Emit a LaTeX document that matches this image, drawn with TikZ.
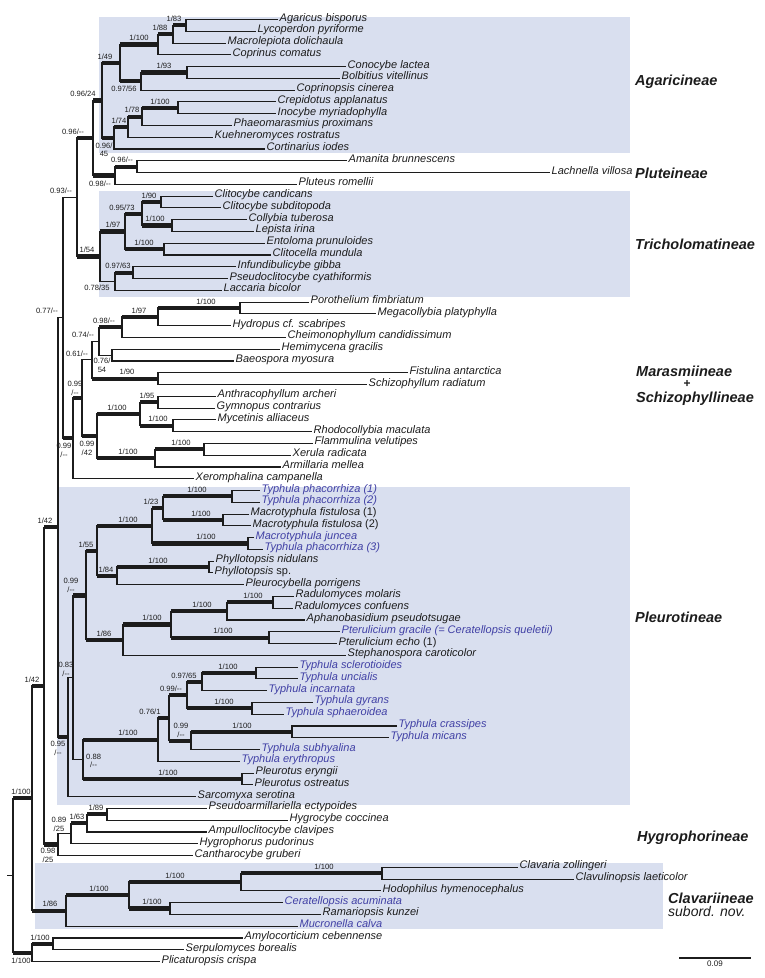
\documentclass[tikz,border=0pt]{standalone}
\usepackage{fontspec}
\setmainfont{Liberation Sans}
\usetikzlibrary{calc, positioning}
\definecolor{cladebg}{RGB}{217,223,239}
\definecolor{newblue}{RGB}{64,64,165}
\definecolor{ink}{RGB}{28,28,28}

\begin{document}
\begin{tikzpicture}[
        x=1pt, y=-1pt,
        taxon/.style={anchor=west, inner xsep=1.5pt, inner ysep=0pt,
                      text height=4.5pt, text depth=1.5pt, text=ink,
                      font=\fontsize{11}{12}\selectfont\itshape},
        newtaxon/.style={taxon, text=newblue},
        sup/.style={inner sep=0pt, align=center, text=ink,
                    font=\fontsize{7.6}{8.8}\selectfont},
        br/.style={draw=ink, line width=1.1pt, line join=miter},
        thk/.style={draw=ink, line width=4.2pt},
        clade/.style={anchor=west, inner sep=0pt, text=ink,
                      font=\fontsize{14.5}{16}\selectfont\bfseries\itshape},
        cladebox/.style={fill=cladebg},
    ]
    \useasboundingbox (0,0) rectangle (765,978);

    % suborder boxes
    \path[cladebox] (99,16.5) rectangle (630,152.7);
    \path[cladebox] (98.5,191) rectangle (630,297.3);
    \path[cladebox] (57,486.7) rectangle (630,805);
    \path[cladebox] (35,863.3) rectangle (663,929.3);

    % suborder names
    \node[clade] (cAga) at (635,82) {Agaricineae};
    \node[clade] (cPlu) at (635,173) {Pluteineae};
    \node[clade] (cTri) at (635,244) {Tricholomatineae};
    \node[clade] (cMar) at (636,371) {Marasmiineae};
    \node[clade, anchor=center, font=\fontsize{12}{12}\selectfont\bfseries,
          text height=5pt, text depth=0pt] (cPlus) at (687,385) {+};
    \node[clade] (cSch) at (636,399) {Schizophyllineae};
    \node[clade] (cPle) at (635,617) {Pleurotineae};
    \node[clade] (cHyg) at (637,838) {Hygrophorineae};
    \node[clade] (cCla) at (668,898) {Clavariineae};
    \node[clade, font=\fontsize{14}{16}\selectfont\itshape] (cNov) at (668,911) {subord. nov.};

    % scale bar
    \coordinate (sb0) at (679,958);
    \coordinate (sb1) at (751,958);
    \draw[br, line width=1.3pt] (sb0) -- (sb1);
    \node[sup, font=\fontsize{8}{9}\selectfont, below=3pt] (sbl) at ($(sb0)!.5!(sb1)$) {0.09};

    \begin{scope}[yshift=-19.5pt, y=-11.775pt]
    % taxa: Agaricineae, Pluteineae
    \node[taxon] (ag1) at (278,0) {Agaricus bisporus};
    \node[taxon] (ag2) at (256,1) {Lycoperdon pyriforme};
    \node[taxon] (ag3) at (226,2) {Macrolepiota dolichaula};
    \node[taxon] (ag4) at (231,3) {Coprinus comatus};
    \node[taxon] (ag5) at (346,4) {Conocybe lactea};
    \node[taxon] (ag6) at (340,5) {Bolbitius vitellinus};
    \node[taxon] (ag7) at (295,6) {Coprinopsis cinerea};
    \node[taxon] (ag8) at (276,7) {Crepidotus applanatus};
    \node[taxon] (ag9) at (276,8) {Inocybe myriadophylla};
    \node[taxon] (ag10) at (232,9) {Phaeomarasmius proximans};
    \node[taxon] (ag11) at (213,10) {Kuehneromyces rostratus};
    \node[taxon] (ag12) at (265,11) {Cortinarius iodes};
    \node[taxon] (pl1) at (347,12) {Amanita brunnescens};
    \node[taxon] (pl2) at (550,13) {Lachnella villosa};
    \node[taxon] (pl3) at (297,14) {Pluteus romellii};

    % taxa: Tricholomatineae
    \node[taxon] (tr1) at (213,15) {Clitocybe candicans};
    \node[taxon] (tr2) at (221,16) {Clitocybe subditopoda};
    \node[taxon] (tr3) at (247,17) {Collybia tuberosa};
    \node[taxon] (tr4) at (254,18) {Lepista irina};
    \node[taxon] (tr5) at (265,19) {Entoloma prunuloides};
    \node[taxon] (tr6) at (271,20) {Clitocella mundula};
    \node[taxon] (tr7) at (236,21) {Infundibulicybe gibba};
    \node[taxon] (tr8) at (228,22) {Pseudoclitocybe cyathiformis};
    \node[taxon] (tr9) at (222,23) {Laccaria bicolor};

    % taxa: Marasmiineae + Schizophyllineae
    \node[taxon] (ma1) at (309,24) {Porothelium fimbriatum};
    \node[taxon] (ma2) at (376,25) {Megacollybia platyphylla};
    \node[taxon] (ma3) at (231,26) {Hydropus cf. scabripes};
    \node[taxon] (ma4) at (286,27) {Cheimonophyllum candidissimum};
    \node[taxon] (ma5) at (280,28) {Hemimycena gracilis};
    \node[taxon] (ma6) at (234,29) {Baeospora myosura};
    \node[taxon] (ma7) at (408,30) {Fistulina antarctica};
    \node[taxon] (ma8) at (367,31) {Schizophyllum radiatum};
    \node[taxon] (ma9) at (216,32) {Anthracophyllum archeri};
    \node[taxon] (ma10) at (215,33) {Gymnopus contrarius};
    \node[taxon] (ma11) at (216,34) {Mycetinis alliaceus};
    \node[taxon] (ma12) at (312,35) {Rhodocollybia maculata};
    \node[taxon] (ma13) at (313,36) {Flammulina velutipes};
    \node[taxon] (ma14) at (291,37) {Xerula radicata};
    \node[taxon] (ma15) at (281,38) {Armillaria mellea};
    \node[taxon] (ma16) at (194,39) {Xeromphalina campanella};

    % taxa: Pleurotineae
    \node[newtaxon] (pt1) at (260,40) {Typhula phacorrhiza (1)};
    \node[newtaxon] (pt2) at (260,41) {Typhula phacorrhiza (2)};
    \node[taxon] (pt3) at (249,42) {Macrotyphula fistulosa {\upshape(1)}};
    \node[taxon] (pt4) at (251,43) {Macrotyphula fistulosa {\upshape(2)}};
    \node[newtaxon] (pt5) at (254,44) {Macrotyphula juncea};
    \node[newtaxon] (pt6) at (263,45) {Typhula phacorrhiza (3)};
    \node[taxon] (pt7) at (214,46) {Phyllotopsis nidulans};
    \node[taxon] (pt8) at (213,47) {Phyllotopsis {\upshape sp.}};
    \node[taxon] (pt9) at (244,48) {Pleurocybella porrigens};
    \node[taxon] (pt10) at (294,49) {Radulomyces molaris};
    \node[taxon] (pt11) at (293,50) {Radulomyces confuens};
    \node[taxon] (pt12) at (305,51) {Aphanobasidium pseudotsugae};
    \node[newtaxon] (pt13) at (340,52) {Pterulicium gracile (= Ceratellopsis queletii)};
    \node[taxon] (pt14) at (337,53) {Pterulicium echo {\upshape(1)}};
    \node[taxon] (pt15) at (346,54) {Stephanospora caroticolor};
    \node[newtaxon] (pt16) at (298,55) {Typhula sclerotioides};
    \node[newtaxon] (pt17) at (298,56) {Typhula uncialis};
    \node[newtaxon] (pt18) at (267,57) {Typhula incarnata};
    \node[newtaxon] (pt19) at (313,58) {Typhula gyrans};
    \node[newtaxon] (pt20) at (284,59) {Typhula sphaeroidea};
    \node[newtaxon] (pt21) at (397,60) {Typhula crassipes};
    \node[newtaxon] (pt22) at (389,61) {Typhula micans};
    \node[newtaxon] (pt23) at (260,62) {Typhula subhyalina};
    \node[newtaxon] (pt24) at (240,63) {Typhula erythropus};
    \node[taxon] (pt25) at (254,64) {Pleurotus eryngii};
    \node[taxon] (pt26) at (253,65) {Pleurotus ostreatus};
    \node[taxon] (pt27) at (196,66) {Sarcomyxa serotina};

    % taxa: Hygrophorineae
    \node[taxon] (hy1) at (207,67) {Pseudoarmillariella ectypoides};
    \node[taxon] (hy2) at (288,68) {Hygrocybe coccinea};
    \node[taxon] (hy3) at (207,69) {Ampulloclitocybe clavipes};
    \node[taxon] (hy4) at (198,70) {Hygrophorus pudorinus};
    \node[taxon] (hy5) at (193,71) {Cantharocybe gruberi};

    % taxa: Clavariineae and outgroup
    \node[taxon] (cl1) at (518,72) {Clavaria zollingeri};
    \node[taxon] (cl2) at (574,73) {Clavulinopsis laeticolor};
    \node[taxon] (cl3) at (381,74) {Hodophilus hymenocephalus};
    \node[newtaxon] (cl4) at (283,75) {Ceratellopsis acuminata};
    \node[taxon] (cl5) at (321,76) {Ramariopsis kunzei};
    \node[newtaxon] (cl6) at (298,77) {Mucronella calva};
    \node[taxon] (og1) at (243,78) {Amylocorticium cebennense};
    \node[taxon] (og2) at (184,79) {Serpulomyces borealis};
    \node[taxon] (og3) at (160,80) {Plicaturopsis crispa};

    % branches: Agaricineae, Pluteineae
    \coordinate (nA) at (186,0.5);     \draw[br] (ag1.west) -| (nA) |- (ag2.west);
    \coordinate (nB) at (173,1.25);    \draw[br] (nA) -| (nB) |- (ag3.west);
    \coordinate (nC) at (158,2.125);   \draw[br] (nB) -| (nC) |- (ag4.west);
    \coordinate (nD) at (187,4.5);     \draw[br] (ag5.west) -| (nD) |- (ag6.west);
    \coordinate (nE) at (141,5.25);    \draw[br] (nD) -| (nE) |- (ag7.west);
    \coordinate (nF) at (120,3.6875);  \draw[br] (nC) -| (nF) |- (nE);
    \coordinate (nG) at (178,7.5);     \draw[br] (ag8.west) -| (nG) |- (ag9.west);
    \coordinate (nH) at (142,8.25);    \draw[br] (nG) -| (nH) |- (ag10.west);
    \coordinate (nI) at (128,9.125);   \draw[br] (nH) -| (nI) |- (ag11.west);
    \coordinate (nJ) at (114,10.0625); \draw[br] (nI) -| (nJ) |- (ag12.west);
    \coordinate (nK) at (102,6.875);   \draw[br] (nF) -| (nK) |- (nJ);
    \coordinate (nN) at (137,12.5);    \draw[br] (pl1.west) -| (nN) |- (pl2.west);
    \coordinate (nO) at (115,13.25);   \draw[br] (nN) -| (nO) |- (pl3.west);
    \coordinate (nL) at (93,10.0625);  \draw[br] (nK) -| (nL) |- (nO);

    % branches: Tricholomatineae
    \coordinate (nQ) at (161,15.5);    \draw[br] (tr1.west) -| (nQ) |- (tr2.west);
    \coordinate (nR) at (172,17.5);    \draw[br] (tr3.west) -| (nR) |- (tr4.west);
    \coordinate (nS) at (142,16.5);    \draw[br] (nQ) -| (nS) |- (nR);
    \coordinate (nU) at (164,19.5);    \draw[br] (tr5.west) -| (nU) |- (tr6.west);
    \coordinate (nT) at (125,18);      \draw[br] (nS) -| (nT) |- (nU);
    \coordinate (nV) at (133,21.5);    \draw[br] (tr7.west) -| (nV) |- (tr8.west);
    \coordinate (nW) at (115,22.25);   \draw[br] (nV) -| (nW) |- (tr9.west);
    \coordinate (nP) at (100,20.125);  \draw[br] (nT) -| (nP) |- (nW);
    \coordinate (nM) at (77,15.094);   \draw[br] (nL) -| (nM) |- (nP);

    % branches: Marasmiineae + Schizophyllineae
    \coordinate (nX) at (240,24.5);    \draw[br] (ma1.west) -| (nX) |- (ma2.west);
    \coordinate (nY) at (158,25.25);   \draw[br] (nX) -| (nY) |- (ma3.west);
    \coordinate (nZ) at (122,26.125);  \draw[br] (nY) -| (nZ) |- (ma4.west);
    \coordinate (nAB) at (112,28.5);   \draw[br] (ma5.west) -| (nAB) |- (ma6.west);
    \coordinate (nAA) at (99,27.3125); \draw[br] (nZ) -| (nAA) |- (nAB);
    \coordinate (nAD) at (158,30.5);   \draw[br] (ma7.west) -| (nAD) |- (ma8.west);
    \coordinate (nAC) at (92,28.906);  \draw[br] (nAA) -| (nAC) |- (nAD);
    \coordinate (nAF) at (158,32.5);   \draw[br] (ma9.west) -| (nAF) |- (ma10.west);
    \coordinate (nAG) at (173,34.5);   \draw[br] (ma11.west) -| (nAG) |- (ma12.west);
    \coordinate (nAH) at (140,33.5);   \draw[br] (nAF) -| (nAH) |- (nAG);
    \coordinate (nAJ) at (204,36.5);   \draw[br] (ma13.west) -| (nAJ) |- (ma14.west);
    \coordinate (nAK) at (155,37.25);  \draw[br] (nAJ) -| (nAK) |- (ma15.west);
    \coordinate (nAI) at (97,35.375);  \draw[br] (nAH) -| (nAI) |- (nAK);
    \coordinate (nAE) at (82,32.14);   \draw[br] (nAC) -| (nAE) |- (nAI);
    \coordinate (nAL) at (73,35.57);   \draw[br] (nAE) -| (nAL) |- (ma16.west);
    \coordinate (nAM) at (63,25.33);   \draw[br] (nM) -| (nAM) |- (nAL);

    % branches: Pleurotineae
    \coordinate (nBA) at (232,40.5);   \draw[br] (pt1.west) -| (nBA) |- (pt2.west);
    \coordinate (nBB) at (223,42.5);   \draw[br] (pt3.west) -| (nBB) |- (pt4.west);
    \coordinate (nBC) at (163,41.5);   \draw[br] (nBA) -| (nBC) |- (nBB);
    \coordinate (nBE) at (248,44.5);   \draw[br] (pt5.west) -| (nBE) |- (pt6.west);
    \coordinate (nBD) at (152,43);     \draw[br] (nBC) -| (nBD) |- (nBE);
    \coordinate (nBG) at (209,46.5);   \draw[br] (pt7.west) -| (nBG) |- (pt8.west);
    \coordinate (nBH) at (117,47.25);  \draw[br] (nBG) -| (nBH) |- (pt9.west);
    \coordinate (nBF) at (97,45.125);  \draw[br] (nBD) -| (nBF) |- (nBH);
    \coordinate (nBM) at (273,49.5);   \draw[br] (pt10.west) -| (nBM) |- (pt11.west);
    \coordinate (nBN) at (227,50.25);  \draw[br] (nBM) -| (nBN) |- (pt12.west);
    \coordinate (nBP) at (269,52.5);   \draw[br] (pt13.west) -| (nBP) |- (pt14.west);
    \coordinate (nBO) at (171,51.375); \draw[br] (nBN) -| (nBO) |- (nBP);
    \coordinate (nBL) at (123,52.69);  \draw[br] (nBO) -| (nBL) |- (pt15.west);
    \coordinate (nBI) at (86,48.91);   \draw[br] (nBF) -| (nBI) |- (nBL);
    \coordinate (nBQ) at (256,55.5);   \draw[br] (pt16.west) -| (nBQ) |- (pt17.west);
    \coordinate (nBR) at (202,56.25);  \draw[br] (nBQ) -| (nBR) |- (pt18.west);
    \coordinate (nBT) at (252,58.5);   \draw[br] (pt19.west) -| (nBT) |- (pt20.west);
    \coordinate (nBS) at (187,57.375); \draw[br] (nBR) -| (nBS) |- (nBT);
    \coordinate (nBV) at (292,60.5);   \draw[br] (pt21.west) -| (nBV) |- (pt22.west);
    \coordinate (nBW) at (191,61.25);  \draw[br] (nBV) -| (nBW) |- (pt23.west);
    \coordinate (nBU) at (169,59.31);  \draw[br] (nBS) -| (nBU) |- (nBW);
    \coordinate (nBX) at (158,61.16);  \draw[br] (nBU) -| (nBX) |- (pt24.west);
    \coordinate (nBZ) at (242,64.5);   \draw[br] (pt25.west) -| (nBZ) |- (pt26.west);
    \coordinate (nBY) at (83,62.83);   \draw[br] (nBX) -| (nBY) |- (nBZ);
    \coordinate (nBK) at (73,55.87);   \draw[br] (nBI) -| (nBK) |- (nBY);
    \coordinate (nCA) at (68,60.93);   \draw[br] (nBK) -| (nCA) |- (pt27.west);
    \coordinate (nAN) at (58,43.13);   \draw[br] (nAM) -| (nAN) |- (nCA);

    % branches: Hygrophorineae
    \coordinate (nCE) at (107,67.5);   \draw[br] (hy1.west) -| (nCE) |- (hy2.west);
    \coordinate (nCF) at (87,68.25);   \draw[br] (nCE) -| (nCF) |- (hy3.west);
    \coordinate (nCG) at (71,69.125);  \draw[br] (nCF) -| (nCG) |- (hy4.west);
    \coordinate (nCC) at (58,70.06);   \draw[br] (nCG) -| (nCC) |- (hy5.west);
    \coordinate (nCD) at (44,56.6);    \draw[br] (nAN) -| (nCD) |- (nCC);

    % branches: Clavariineae, outgroup, root
    \coordinate (nCI) at (382,72.5);   \draw[br] (cl1.west) -| (nCI) |- (cl2.west);
    \coordinate (nCJ) at (241,73.25);  \draw[br] (nCI) -| (nCJ) |- (cl3.west);
    \coordinate (nCL) at (170,75.5);   \draw[br] (cl4.west) -| (nCL) |- (cl5.west);
    \coordinate (nCK) at (129,74.375); \draw[br] (nCJ) -| (nCK) |- (nCL);
    \coordinate (nCM) at (66,75.69);   \draw[br] (nCK) -| (nCM) |- (cl6.west);
    \coordinate (nCH) at (32,66.14);   \draw[br] (nCD) -| (nCH) |- (nCM);
    \coordinate (nCO) at (53,78.5);    \draw[br] (og1.west) -| (nCO) |- (og2.west);
    \coordinate (nCP) at (32,79.25);   \draw[br] (nCO) -| (nCP) |- (og3.west);
    \coordinate (nCN) at (13,72.7);    \draw[br] (nCH) -| (nCN) |- (nCP);
    \coordinate (rt) at (7,72.7);      \draw[br] (rt) -- (nCN);

    % well supported branches
    \foreach \c/\p in {nA/nB, nB/nC, nC/nF, nD/nE, nE/nF, nF/nK, nG/nH, nH/nI,
        nI/nJ, nJ/nK, nK/nL, nL/nM, nN/nO, nO/nL, nQ/nS, nR/nS, nS/nT, nU/nT,
        nT/nP, nV/nW, nP/nM, nX/nY, nY/nZ, nZ/nAA, nAD/nAC, nAF/nAH, nAG/nAH,
        nAH/nAI, nAJ/nAK, nAK/nAI, nAI/nAE, nAE/nAL, nAL/nAM, nBA/nBC, nBB/nBC,
        nBC/nBD, nBE/nBD, nBD/nBF, nBG/nBH, nBH/nBF, nBF/nBI, nBM/nBN, nBN/nBO,
        nBP/nBO, nBO/nBL, nBL/nBI, nBI/nBK, nBQ/nBR, nBR/nBS, nBT/nBS, nBS/nBU,
        nBV/nBW, nBW/nBU, nBU/nBX, nBX/nBY, nBZ/nBY, nCA/nAN, nAN/nCD, nCE/nCF,
        nCF/nCG, nCC/nCD, nCD/nCH, nCI/nCJ, nCJ/nCK, nCL/nCK, nCK/nCM, nCM/nCH,
        nCH/nCN, nCO/nCP, nCP/nCN}
        \draw[thk] (\c -| \p) -- (\c);

    % support values
    \node[sup, above=3.5pt] (sA) at (174,0.5) {1/83};
    \node[sup, above=3.5pt] (sB) at (160,1.25) {1/88};
    \node[sup, above=3.5pt] (sC) at (139,2.125) {1/100};
    \node[sup, above=3.5pt] (sD) at (164,4.5) {1/93};
    \node[sup, below=4pt] (sE) at (124,5.25) {0.97/56};
    \node[sup, above=3.5pt] (sF) at (105,3.6875) {1/49};
    \node[sup, above=3.5pt] (sG) at (160,7.5) {1/100};
    \node[sup, above=3.5pt] (sH) at (132,8.25) {1/78};
    \node[sup, above=3.5pt] (sI) at (119,9.125) {1/74};
    \node[sup, below=4.5pt] (sJ) at (104,10.0625) {0.96/\\45};
    \node[sup, above=3.5pt] (sK) at (83,6.875) {0.96/24};
    \node[sup, above=3.5pt] (sL) at (73,10.0625) {0.96/-{}-};
    \node[sup, above=3.5pt] (sN) at (122,12.5) {0.96/-{}-};
    \node[sup, below=5pt] (sO) at (100,13.25) {0.98/-{}-};
    \node[sup, above=3.5pt] (sM) at (61,15.094) {0.93/-{}-};
    \node[sup, above=3.5pt] (sQ) at (149,15.5) {1/90};
    \node[sup, above=3.5pt] (sR) at (155,17.5) {1/100};
    \node[sup, above=3.5pt] (sS) at (122,16.5) {0.95/73};
    \node[sup, above=3.5pt] (sU) at (144,19.5) {1/100};
    \node[sup, above=3.5pt] (sT) at (113,18) {1/97};
    \node[sup, above=3.5pt] (sV) at (118,21.5) {0.97/63};
    \node[sup, below=3pt] (sW) at (97,22.25) {0.78/35};
    \node[sup, above=3.5pt] (sP) at (87,20.125) {1/54};
    \node[sup, above=3.5pt] (sX) at (206,24.5) {1/100};
    \node[sup, above=3.5pt] (sY) at (139,25.25) {1/97};
    \node[sup, above=3.5pt] (sZ) at (104,26.125) {0.98/-{}-};
    \node[sup, below=3pt] (sAB) at (102,28.5) {0.76/\\54};
    \node[sup, above=3.5pt] (sAA) at (83,27.3125) {0.74/-{}-};
    \node[sup, above=3.5pt] (sAD) at (127,30.5) {1/90};
    \node[sup, above=3.5pt] (sAC) at (77,28.906) {0.61/-{}-};
    \node[sup, above=3.5pt] (sAF) at (147,32.5) {1/95};
    \node[sup, above=3.5pt] (sAG) at (158,34.5) {1/100};
    \node[sup, above=3.5pt] (sAH) at (117,33.5) {1/100};
    \node[sup, above=3.5pt] (sAJ) at (181,36.5) {1/100};
    \node[sup, above=3.5pt] (sAK) at (128,37.25) {1/100};
    \node[sup, below=5pt] (sAI) at (87,35.375) {0.99\\/42};
    \node[sup, above=2pt] (sAE) at (75,32.14) {0.99\\/-{}-};
    \node[sup, below=4.5pt] (sAL) at (64,35.57) {0.99\\/-{}-};
    \node[sup, above=3.5pt] (sAM) at (47,25.33) {0.77/-{}-};
    \node[sup, above=3.5pt] (sBA) at (197,40.5) {1/100};
    \node[sup, above=3.5pt] (sBB) at (201,42.5) {1/100};
    \node[sup, above=3.5pt] (sBC) at (151,41.5) {1/23};
    \node[sup, above=3.5pt] (sBE) at (206,44.5) {1/100};
    \node[sup, above=3.5pt] (sBD) at (128,43) {1/100};
    \node[sup, above=3.5pt] (sBG) at (158,46.5) {1/100};
    \node[sup, above=3.5pt] (sBH) at (106,47.25) {1/84};
    \node[sup, above=3.5pt] (sBF) at (86,45.125) {1/55};
    \node[sup, above=3.5pt] (sBM) at (253,49.5) {1/100};
    \node[sup, above=3.5pt] (sBN) at (202,50.25) {1/100};
    \node[sup, above=3.5pt] (sBP) at (223,52.5) {1/100};
    \node[sup, above=3.5pt] (sBO) at (152,51.375) {1/100};
    \node[sup, above=3.5pt] (sBL) at (104,52.69) {1/86};
    \node[sup, above=3pt] (sBI) at (71,48.91) {0.99\\/-{}-};
    \node[sup, above=3.5pt] (sBQ) at (228,55.5) {1/100};
    \node[sup, above=3.5pt] (sBR) at (184,56.25) {0.97/65};
    \node[sup, above=3.5pt] (sBT) at (224,58.5) {1/100};
    \node[sup, above=3.5pt] (sBS) at (171,57.375) {0.99/-{}-};
    \node[sup, above=3.5pt] (sBV) at (242,60.5) {1/100};
    \node[sup, above=3pt] (sBW) at (181,61.25) {0.99\\/-{}-};
    \node[sup, above=3.5pt] (sBU) at (150,59.31) {0.76/1};
    \node[sup, above=3.5pt] (sBX) at (128,61.16) {1/100};
    \node[sup, above=3.5pt] (sBZ) at (168,64.5) {1/100};
    \node[sup, anchor=north west] (sBY) at (86,62.34) {0.88\\/-{}-};
    \node[sup, above=1pt] (sBK) at (66,55.87) {0.83\\/-{}-};
    \node[sup, below=4pt] (sCA) at (58,60.93) {0.95\\/-{}-};
    \node[sup, above=3.5pt] (sAN) at (45,43.13) {1/42};
    \node[sup, above=3.5pt] (sCE) at (96,67.5) {1/89};
    \node[sup, above=3.5pt] (sCF) at (77,68.25) {1/63};
    \node[sup, above=1.5pt] (sCG) at (59,69.125) {0.89\\/25};
    \node[sup, below=3.5pt] (sCC) at (48,70.06) {0.98\\/25};
    \node[sup, above=3.5pt] (sCD) at (32,56.6) {1/42};
    \node[sup, above=3.5pt] (sCI) at (324,72.5) {1/100};
    \node[sup, above=3.5pt] (sCJ) at (175,73.25) {1/100};
    \node[sup, above=3.5pt] (sCL) at (152,75.5) {1/100};
    \node[sup, above=3.5pt] (sCK) at (99,74.375) {1/100};
    \node[sup, above=3.5pt] (sCM) at (50,75.69) {1/86};
    \node[sup, above=3.5pt] (sCH) at (21,66.14) {1/100};
    \node[sup, above=3.5pt] (sCO) at (40,78.5) {1/100};
    \node[sup, below=5pt] (sCP) at (21,79.25) {1/100};
    \end{scope}
\end{tikzpicture}
\end{document}
